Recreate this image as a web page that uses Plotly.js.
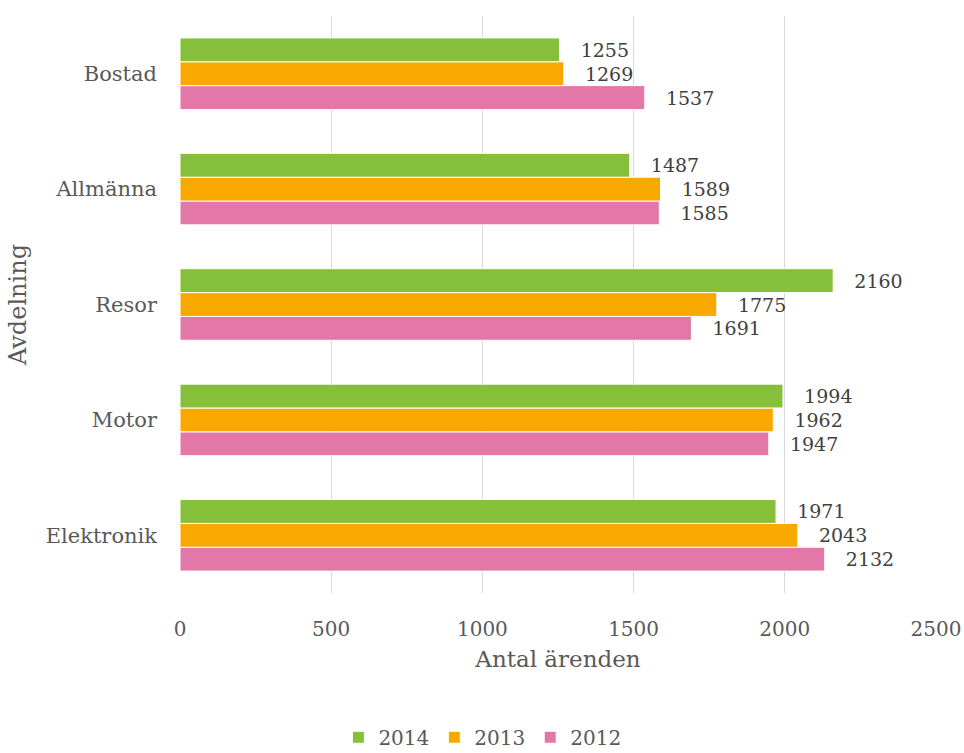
<!DOCTYPE html>
<html>
<head>
<meta charset="utf-8">
<script src="https://cdn.plot.ly/plotly-3.0.1.min.js"></script>
<style>html,body{margin:0;padding:0;background:#fff;}#chart{width:964px;height:753px;}</style>
</head>
<body>
<div id="chart"></div>
<script>
// Categories listed bottom to top
const categories = ["Elektronik", "Motor", "Resor", "Allmänna", "Bostad"];
const values2012 = [2132, 1947, 1691, 1585, 1537];
const values2013 = [2043, 1962, 1775, 1589, 1269];
const values2014 = [1971, 1994, 2160, 1487, 1255];
const seriesNames = ["2012", "2013", "2014"];
const seriesColors = ["#e377a8", "#f9a800", "#86c03a"];
const xTicks = [0, 500, 1000, 1500, 2000, 2500];

const FONT = "DejaVu Serif, Georgia, serif";
const allValues = [values2012, values2013, values2014];

const traces = allValues.map((vals, i) => ({
  type: "bar",
  orientation: "h",
  name: seriesNames[i],
  y: categories,
  x: vals,
  marker: { color: seriesColors[i], line: { color: "#ffffff", width: 1 } },
  text: vals.map(v => String(v)),
  texttemplate: "   %{text}",
  textposition: "outside",
  constraintext: "none",
  cliponaxis: false,
  textfont: { family: FONT, size: 19, color: "#404040" },
  hoverinfo: "x+name"
}));

const layout = {
  width: 964,
  height: 753,
  margin: { l: 180, r: 28, t: 16, b: 160, autoexpand: false },
  paper_bgcolor: "#ffffff",
  plot_bgcolor: "#ffffff",
  barmode: "group",
  bargap: 0.38,
  bargroupgap: 0,
  font: { family: FONT, color: "#595959" },
  xaxis: {
    range: [0, 2500],
    tickvals: xTicks,
    ticktext: xTicks.map(String),
    showgrid: true,
    gridcolor: "#d9d9d9",
    gridwidth: 1,
    zeroline: false,
    showline: false,
    ticks: "",
    ticklabelstandoff: 22,
    tickfont: { family: FONT, size: 20, color: "#595959" },
    title: { text: "Antal ärenden", font: { family: FONT, size: 23, color: "#595959" }, standoff: 10 },
    automargin: false,
    fixedrange: true
  },
  yaxis: {
    showgrid: false,
    zeroline: false,
    showline: false,
    ticks: "",
    ticklabelstandoff: 22,
    tickfont: { family: FONT, size: 21, color: "#595959" },
    title: { text: "Avdelning", font: { family: FONT, size: 24, color: "#595959" }, standoff: 12 },
    automargin: false,
    fixedrange: true
  },
  showlegend: true,
  legend: {
    orientation: "h",
    x: 0.4,
    xanchor: "center",
    y: -0.25,
    yanchor: "middle",
    traceorder: "reversed",
    font: { family: FONT, size: 20, color: "#595959" },
    itemwidth: 30
  }
};

Plotly.newPlot("chart", traces, layout, { displayModeBar: false, staticPlot: true });
</script>
</body>
</html>
